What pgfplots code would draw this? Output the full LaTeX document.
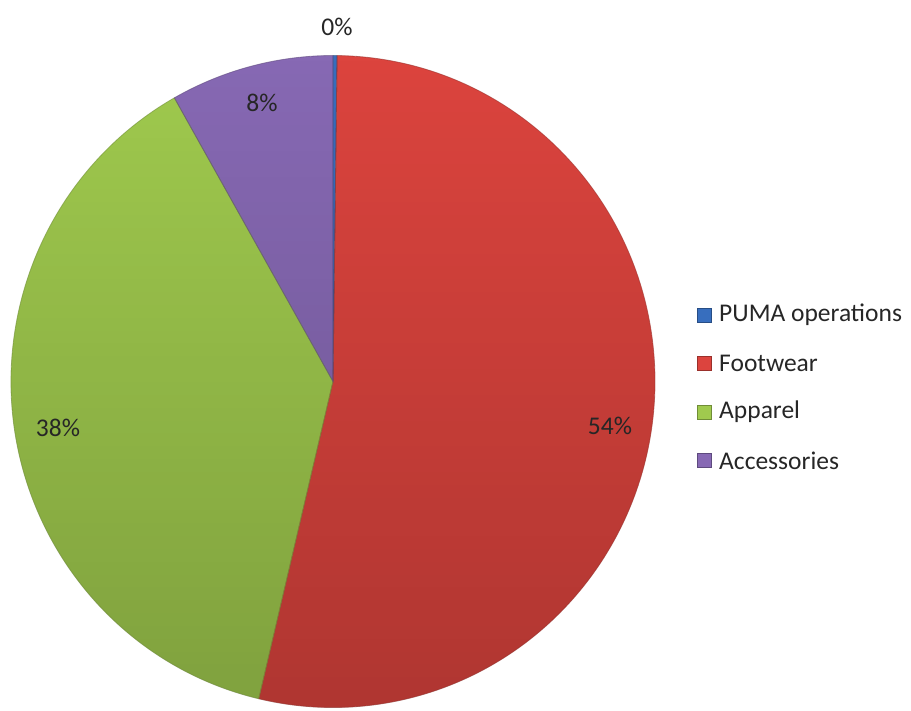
\documentclass[border=0pt]{standalone}
\usepackage{pgfplots}
\pgfplotsset{compat=1.18}
\usepackage{pgfplotstable}
\usepackage{fontspec}
\setmainfont{Carlito}
\usetikzlibrary{fadings}

\definecolor{c0}{RGB}{55,110,190}
\definecolor{c1}{RGB}{220,68,62}
\definecolor{c2}{RGB}{160,202,78}
\definecolor{c3}{RGB}{135,105,180}

% share of each segment in percent, and where its label sits (pixels)
\pgfplotstableread[col sep=comma]{
name,value,label,lx,ly
PUMA operations,0.2,0,337,27
Footwear,53.5,54,610,426
Apparel,38.1,38,58,428
Accessories,8.2,8,262,103
}\piedata

\def\cumval{0}
\pgfplotsforeachungrouped \i in {0,...,3}{%
  \pgfplotstablegetelem{\i}{value}\of\piedata \let\v\pgfplotsretval
  \pgfmathsetmacro\aS{90-3.6*\cumval}%
  \pgfmathsetmacro\cumval{\cumval+\v}%
  \pgfmathsetmacro\aE{90-3.6*\cumval}%
  \expandafter\xdef\csname pieS\i\endcsname{\aS}%
  \expandafter\xdef\csname pieE\i\endcsname{\aE}%
  \pgfplotstablegetelem{\i}{name}\of\piedata
  \expandafter\xdef\csname pieN\i\endcsname{\pgfplotsretval}%
  \pgfplotstablegetelem{\i}{label}\of\piedata
  \expandafter\xdef\csname pieL\i\endcsname{\pgfplotsretval}%
  \pgfplotstablegetelem{\i}{lx}\of\piedata
  \expandafter\xdef\csname pieX\i\endcsname{\pgfplotsretval}%
  \pgfplotstablegetelem{\i}{ly}\of\piedata
  \expandafter\xdef\csname pieY\i\endcsname{\pgfplotsretval}%
}
\def\pS#1{\csname pieS#1\endcsname}
\def\pE#1{\csname pieE#1\endcsname}

\begin{document}
\begin{tikzpicture}
\begin{axis}[
  scale only axis, width=911bp, height=711bp,
  xmin=0, xmax=911, ymin=0, ymax=711, y dir=reverse,
  hide axis, clip=false,
]
\coordinate (tl) at (axis cs:0,0);
\coordinate (br) at (axis cs:911,711);
\pgfplotsinvokeforeach{0,...,3}{
  \fill[fill=c#1] (axis cs:333,381.5) -- ++(\pS{#1}:322bp and 326bp)
     arc[start angle=\pS{#1}, end angle=\pE{#1}, x radius=322bp, y radius=326bp] -- cycle;
}
\fill[black, opacity=0.2, path fading=north] (axis cs:333,381.5) ellipse [x radius=322bp, y radius=326bp];
\pgfplotsinvokeforeach{0,...,3}{
  \draw[c#1!70!black, line width=0.8bp, opacity=0.6] (axis cs:333,381.5) -- ++(\pS{#1}:322bp and 326bp)
     arc[start angle=\pS{#1}, end angle=\pE{#1}, x radius=322bp, y radius=326bp] -- cycle;
}
\pgfplotsinvokeforeach{0,...,3}{
  \node[inner sep=0pt, font=\fontsize{25.5bp}{30bp}\selectfont, text=black!85]
     at (axis cs:\csname pieX#1\endcsname,\csname pieY#1\endcsname) {\csname pieL#1\endcsname\%};
  \fill[c#1, draw=c#1!70!black, line width=0.6bp]
     (axis cs:697,{315+48.5*#1-7}) rectangle (axis cs:711,{315+48.5*#1+7});
  \node[inner sep=0pt, anchor=west, font=\fontsize{25.5bp}{30bp}\selectfont, text=black!85]
     at (axis cs:719,{315+48.5*#1}) {\csname pieN#1\endcsname};
}
\end{axis}
\pgfresetboundingbox
\path (tl) rectangle (br);
\end{tikzpicture}
\end{document}
